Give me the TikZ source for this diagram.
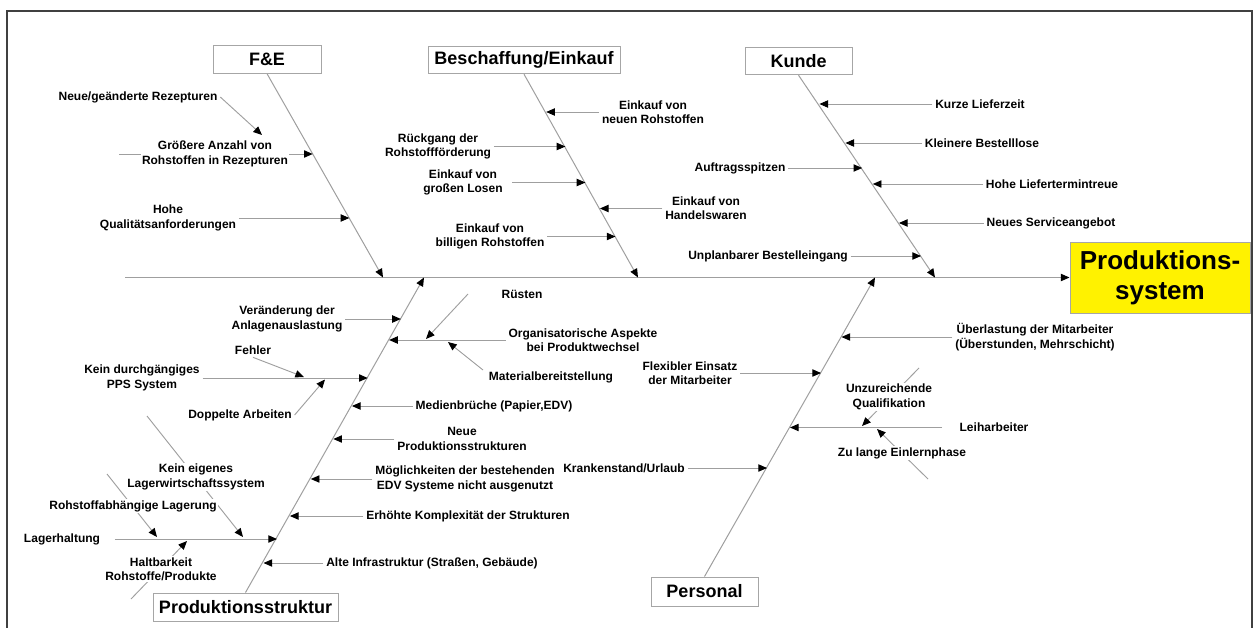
\documentclass[tikz,border=0pt]{standalone}
\usepackage{fontspec}
\setmainfont{Liberation Sans}
\usetikzlibrary{arrows.meta,backgrounds}
\begin{document}
\begin{tikzpicture}[x=0.75pt,y=-0.75pt,
  lbl/.style={font=\fontsize{9}{10.8}\selectfont\bfseries, align=center, inner sep=2pt},
  lblw/.style={lbl, fill=white, inner sep=1pt},
  titlebox/.style={draw=gray!70, fill=white, line width=0.75pt, font=\fontsize{13.5}{16}\selectfont\bfseries, minimum height=20.5pt, inner sep=0pt},
  tip/.style={-{Triangle[length=6.5pt,width=5.5pt,color=black]}},
  cause/.style={draw=gray!75, line width=0.7pt, tip},
  bone/.style={draw=gray!75, line width=0.75pt, tip},
]
\useasboundingbox (0,0) rectangle (1253,628);
\draw[line width=1.5pt, draw=black!75] (7,628) -- (7,11) -- (1252,11) -- (1252,628);

% category boxes
\node[titlebox, minimum width=81pt] (fe) at (267,59.5) {F\&E};
\node[titlebox, minimum width=144pt] (bes) at (524,60) {Beschaffung/Einkauf};
\node[titlebox, minimum width=80.25pt] (kun) at (798.5,61) {Kunde};
\node[titlebox, minimum width=138.75pt, minimum height=21pt] (pst) at (245.5,607) {Produktionsstruktur};
\node[titlebox, minimum width=80.25pt, minimum height=21.75pt] (per) at (704.5,591.5) {Personal};
\node[draw=gray!70, fill=yellow, line width=0.75pt, minimum width=135pt, minimum height=53.25pt, align=center, inner sep=0pt, font=\fontsize{19.5}{22.5}\selectfont\bfseries] (head) at (1160,277.5) {Produktions-\\system};

% spine and bone end points
\coordinate (sp0) at (125,277.5);
\coordinate (feE) at (383,277.5);
\coordinate (beE) at (638,277.5);
\coordinate (kuE) at (935,277.5);
\coordinate (psE) at (424,277.5);
\coordinate (peE) at (875,277.5);

% points on bones
\coordinate (f1) at (312.7,154);
\coordinate (f2) at (349.3,218);
\coordinate (b1) at (546.2,112);
\coordinate (b2) at (565.4,146.5);
\coordinate (b3) at (585.4,182.5);
\coordinate (b4) at (599.9,208.5);
\coordinate (b5) at (615.5,236.5);
\coordinate (k1) at (819.4,104);
\coordinate (k2) at (845.4,143);
\coordinate (k3) at (862.2,168);
\coordinate (k4) at (872.8,184);
\coordinate (k5) at (898.9,223);
\coordinate (k6) at (921,256);
\coordinate (porg) at (389.1,340);
\coordinate (pver) at (400.9,319);
\coordinate (ppps) at (367.7,378);
\coordinate (pmed) at (351.9,406);
\coordinate (pneu) at (333.3,439);
\coordinate (pmoe) at (310.8,479);
\coordinate (perh) at (289.9,516);
\coordinate (plag) at (277,539);
\coordinate (palt) at (263.5,563);
\coordinate (pe1) at (841.5,337);
\coordinate (pe2) at (821,373);
\coordinate (pe3) at (790,427.5);
\coordinate (pe4) at (767,468);

% free ends of sub-cause lines
\coordinate (nr1) at (262,135);
\coordinate (ga0) at (119,154);
\coordinate (rs0) at (468,294);
\coordinate (rs1) at (426,339);
\coordinate (mb0) at (483,370);
\coordinate (mb1) at (448,342);
\coordinate (fh1) at (304,377);
\coordinate (da1) at (325,379.5);
\coordinate (ra0) at (107,474);
\coordinate (ra1) at (157,537);
\coordinate (ke0) at (147,416);
\coordinate (ke1) at (243,537);
\coordinate (hb0) at (131,599);
\coordinate (hb1) at (187,541);
\coordinate (uq0) at (919,368);
\coordinate (uq1) at (862,426);
\coordinate (zl0) at (928,479);
\coordinate (zl1) at (877,429);

% labels: F&E
\node[lbl] (neue) at (138,97) {Neue/geänderte Rezepturen};
\node[lblw] (groe) at (215,154) {Größere Anzahl von\\Rohstoffen in Rezepturen};
\node[lbl] (hohe) at (168,218) {Hohe\\Qualitätsanforderungen};
% Beschaffung
\node[lbl] (bn1) at (653,112) {Einkauf von\\neuen Rohstoffen};
\node[lbl] (bn2) at (438,146.5) {Rückgang der\\Rohstoffförderung};
\node[lbl] (bn3) at (463,182.5) {Einkauf von\\großen Losen};
\node[lbl] (bn4) at (706,208.5) {Einkauf von\\Handelswaren};
\node[lbl] (bn5) at (490,236.5) {Einkauf von\\billigen Rohstoffen};
% Kunde
\node[lbl] (kn1) at (980,104) {Kurze Lieferzeit};
\node[lbl] (kn2) at (982,143) {Kleinere Bestelllose};
\node[lbl] (kn3) at (740,168) {Auftragsspitzen};
\node[lbl] (kn4) at (1052,184) {Hohe Liefertermintreue};
\node[lbl] (kn5) at (1051,223) {Neues Serviceangebot};
\node[lbl] (kn6) at (768,256) {Unplanbarer Bestelleingang};
% Produktionsstruktur
\node[lbl] (ruest) at (522,294) {Rüsten};
\node[lbl] (orga) at (583,340) {Organisatorische Aspekte\\bei Produktwechsel};
\node[lbl] (mat) at (551,377) {Materialbereitstellung};
\node[lbl] (vera) at (287,319) {Veränderung der\\Anlagenauslastung};
\node[lbl] (pps) at (142,378) {Kein durchgängiges\\PPS System};
\node[lbl] (fehl) at (253,350) {Fehler};
\node[lbl] (dopp) at (240,415) {Doppelte Arbeiten};
\node[lbl] (medi) at (494,406) {Medienbrüche (Papier,EDV)};
\node[lbl] (neup) at (462,439) {Neue\\Produktionsstrukturen};
\node[lbl] (moeg) at (465,479) {Möglichkeiten der bestehenden\\EDV Systeme nicht ausgenutzt};
\node[lbl] (erho) at (468,516) {Erhöhte Komplexität der Strukturen};
\node[lbl] (alte) at (432,563) {Alte Infrastruktur (Straßen, Gebäude)};
\node[lbl] (lagh) at (62,539) {Lagerhaltung};
\node[lblw] (rohl) at (133,506) {Rohstoffabhängige Lagerung};
\node[lblw] (keig) at (196,477) {Kein eigenes\\Lagerwirtschaftssystem};
\node[lblw] (halt) at (161,569) {Haltbarkeit\\Rohstoffe/Produkte};
% Personal
\node[lbl] (uebe) at (1035,337) {Überlastung der Mitarbeiter\\(Überstunden, Mehrschicht)};
\node[lbl] (flex) at (690,373) {Flexibler Einsatz\\der Mitarbeiter};
\node[lbl] (leih) at (994,427.5) {Leiharbeiter};
\node[lblw] (unzu) at (889,397) {Unzureichende\\Qualifikation};
\node[lblw] (zula) at (902,453) {Zu lange Einlernphase};
\node[lbl] (kran) at (624,468) {Krankenstand/Urlaub};

\begin{pgfonlayer}{background}
% spine and bones
\draw[bone] (sp0) -- (head.west);
\draw[bone] (fe.south) -- (feE);
\draw[bone] (bes.south) -- (beE);
\draw[bone] (kun.south) -- (kuE);
\draw[bone] (pst.north) -- (psE);
\draw[bone] (per.north) -- (peE);
% F&E
\draw[cause] (neue.east) -- (nr1);
\draw[cause] (ga0) -- (f1);
\draw[cause] (hohe) -- (f2);
% Beschaffung
\draw[cause] (bn1) -- (b1);
\draw[cause] (bn2) -- (b2);
\draw[cause, shorten <=5pt] (bn3) -- (b3);
\draw[cause] (bn4) -- (b4);
\draw[cause] (bn5) -- (b5);
% Kunde
\draw[cause] (kn1) -- (k1);
\draw[cause] (kn2) -- (k2);
\draw[cause] (kn3) -- (k3);
\draw[cause] (kn4) -- (k4);
\draw[cause] (kn5) -- (k5);
\draw[cause] (kn6) -- (k6);
% Produktionsstruktur
\draw[cause] (orga) -- (porg);
\draw[cause] (rs0) -- (rs1);
\draw[cause] (mb0) -- (mb1);
\draw[cause] (vera) -- (pver);
\draw[cause] (pps) -- (ppps);
\draw[cause] (fehl.south) -- (fh1);
\draw[cause] (dopp.east) -- (da1);
\draw[cause] (medi) -- (pmed);
\draw[cause] (neup) -- (pneu);
\draw[cause] (moeg) -- (pmoe);
\draw[cause] (erho) -- (perh);
\draw[cause] (alte) -- (palt);
\draw[cause, shorten <=9pt] (lagh) -- (plag);
\draw[cause] (ra0) -- (ra1);
\draw[cause] (ke0) -- (ke1);
\draw[cause] (hb0) -- (hb1);
% Personal
\draw[cause] (uebe) -- (pe1);
\draw[cause] (flex) -- (pe2);
\draw[cause, shorten <=11pt] (leih) -- (pe3);
\draw[cause] (uq0) -- (uq1);
\draw[cause] (zl0) -- (zl1);
\draw[cause] (kran) -- (pe4);
\end{pgfonlayer}
\end{tikzpicture}
\end{document}
